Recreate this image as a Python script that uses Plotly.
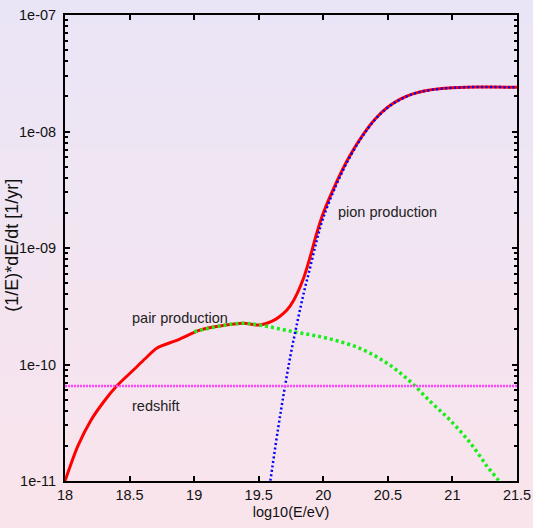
import math
import plotly.graph_objects as go

# log10 of proton energy [eV] and energy-loss rates (1/E) dE/dt [1/yr]
total_logE = [18.00, 18.10, 18.20, 18.30, 18.40, 18.53, 18.62, 18.71, 18.87, 19.05,
              19.20, 19.38, 19.51, 19.60, 19.66, 19.72, 19.77, 19.85, 19.90, 19.95,
              20.00, 20.10, 20.20, 20.30, 20.40, 20.50, 20.60, 20.70, 20.80, 20.90,
              21.00, 21.10, 21.20, 21.30, 21.50]
total_rate = [1.00e-11, 2.00e-11, 3.31e-11, 4.79e-11, 6.53e-11, 8.97e-11, 1.12e-10, 1.38e-10,
              1.62e-10, 1.98e-10, 2.14e-10, 2.26e-10, 2.18e-10, 2.34e-10, 2.57e-10, 2.95e-10,
              3.55e-10, 5.62e-10, 8.51e-10, 1.35e-09, 2.00e-09, 3.63e-09, 6.03e-09, 9.12e-09,
              1.274e-08, 1.622e-08, 1.905e-08, 2.113e-08, 2.249e-08, 2.328e-08, 2.371e-08,
              2.399e-08, 2.410e-08, 2.410e-08, 2.393e-08]

pair_logE = [19.00, 19.20, 19.38, 19.51, 19.77, 20.03, 20.28, 20.48, 20.66, 20.83,
             20.98, 21.14, 21.27, 21.36, 21.40]
pair_rate = [1.91e-10, 2.14e-10, 2.26e-10, 2.18e-10, 1.91e-10, 1.68e-10, 1.38e-10, 1.05e-10,
             7.36e-11, 4.80e-11, 3.34e-11, 2.11e-11, 1.33e-11, 1.00e-11, 8.50e-12]

pion_logE = [19.57, 19.59, 19.65, 19.70, 19.75, 19.80, 19.85, 19.90, 19.95, 20.00, 20.10,
             20.20, 20.30, 20.40, 20.50, 20.60, 20.70, 20.80, 20.90, 21.00, 21.10, 21.20,
             21.30, 21.50]
pion_rate = [7.08e-12, 1.00e-11, 2.82e-11, 6.17e-11, 1.26e-10, 2.34e-10, 4.17e-10, 6.92e-10,
             1.17e-09, 1.82e-09, 3.47e-09, 5.88e-09, 8.98e-09, 1.262e-08, 1.610e-08,
             1.897e-08, 2.109e-08, 2.244e-08, 2.323e-08, 2.371e-08, 2.399e-08, 2.410e-08,
             2.410e-08, 2.393e-08]

redshift_logE = [18.0, 21.5]
redshift_rate = [6.53e-11, 6.53e-11]

y_tickvals = [1e-11, 1e-10, 1e-09, 1e-08, 1e-07]
y_ticktext = ["1e-11", "1e-10", "1e-09", "1e-08", "1e-07"]
x_tickvals = [18, 18.5, 19, 19.5, 20, 20.5, 21, 21.5]
x_ticktext = ["18", "18.5", "19", "19.5", "20", "20.5", "21", "21.5"]

labels = [
    ("pion production", 20.10, 2.04e-09),
    ("pair production", 18.50, 2.50e-10),
    ("redshift", 18.50, 4.40e-11),
]

FONT = "Liberation Sans, Arial, sans-serif"
INK = "#111111"

fig = go.Figure()
fig.add_trace(go.Scatter(x=total_logE, y=total_rate, mode="lines",
                         line=dict(color="#ff0000", width=3, shape="spline", smoothing=0.8)))
fig.add_trace(go.Scatter(x=pair_logE, y=pair_rate, mode="lines", line_shape="spline",
                         line=dict(color="#1aee1a", width=3.5, dash="3px,3px")))
fig.add_trace(go.Scatter(x=pion_logE, y=pion_rate, mode="lines", line_shape="spline",
                         line=dict(color="#0000ff", width=2.5, dash="2px,2.5px")))
fig.add_trace(go.Scatter(x=redshift_logE, y=redshift_rate, mode="lines",
                         line=dict(color="#ff44ff", width=2.5, dash="2px,1px")))

# annotation positions on a log axis are given as exponents
for text, xv, yv in labels:
    fig.add_annotation(x=xv, y=math.log10(yv), text=text, showarrow=False, xanchor="left",
                       yanchor="middle", font=dict(family=FONT, size=14.5, color="#222222"))

# rotated y-axis title, placed left of the tick labels
fig.add_annotation(text="(1/E)*dE/dt [1/yr]", xref="paper", yref="paper",
                   x=-0.117, y=0.505, xanchor="center", yanchor="middle",
                   textangle=-90, showarrow=False,
                   font=dict(family=FONT, size=18, color=INK))

# vertical lavender-to-pink background wash
top = (233, 229, 247)
bottom = (252, 228, 234)
bands = 80
for i in range(bands):
    t = i / (bands - 1)
    c = tuple(round(top[k] + (bottom[k] - top[k]) * t) for k in range(3))
    fig.add_shape(type="rect", xref="paper", yref="paper", layer="below",
                  x0=-0.2, x1=1.2, y0=1.1 - (i + 1) * 1.35 / bands - 0.005,
                  y1=1.1 - i * 1.35 / bands,
                  fillcolor="rgb(%d,%d,%d)" % c, line=dict(width=0))

axis_common = dict(showline=True, linecolor="black", linewidth=2, mirror="ticks",
                   ticks="inside", tickcolor="black", showgrid=False, zeroline=False,
                   tickfont=dict(family=FONT, size=14.5, color=INK))

fig.update_xaxes(range=[18, 21.5], tickvals=x_tickvals, ticktext=x_ticktext,
                 ticklen=5, tickwidth=1.5,
                 title=dict(text="log10(E/eV)", standoff=4,
                            font=dict(family=FONT, size=14.5, color=INK)),
                 **axis_common)
fig.update_yaxes(type="log", range=[-11, -7], tickvals=y_tickvals, ticktext=y_ticktext,
                 ticklen=5, tickwidth=1.5, ticklabelstandoff=4,
                 minor=dict(ticks="inside", ticklen=3, tickwidth=1.5, tickcolor="black",
                            dtick="D1", showgrid=False),
                 **axis_common)

fig.update_layout(width=533, height=528, showlegend=False,
                  margin=dict(l=65, r=16, t=15, b=47, autoexpand=False),
                  paper_bgcolor="rgb(242,228,240)", plot_bgcolor="rgba(0,0,0,0)")

fig.write_html("out.html")
